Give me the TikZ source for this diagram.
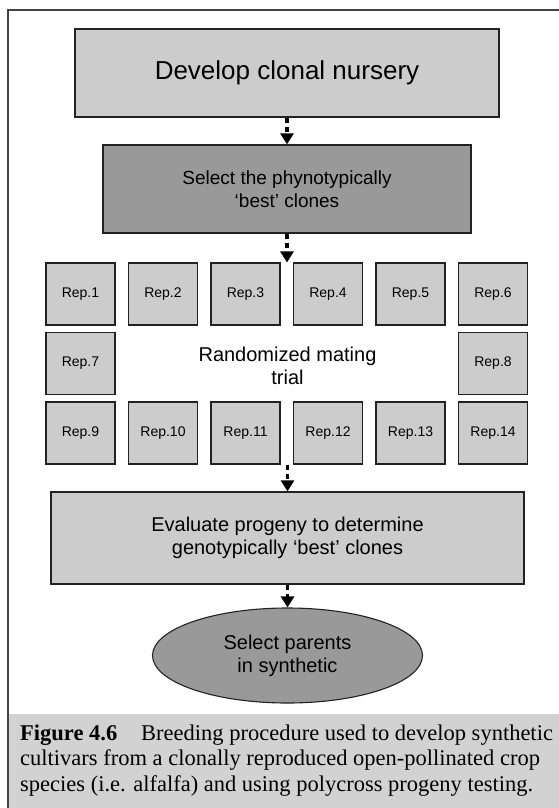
\documentclass[tikz,border=0pt]{standalone}
\usepackage{fontspec}
\setmainfont{Liberation Serif}
\newfontfamily\diagfont{Liberation Sans}
\usetikzlibrary{arrows.meta,shapes.geometric}
\definecolor{boxlight}{HTML}{CCCCCC}
\definecolor{boxdark}{HTML}{999999}
\definecolor{capfill}{HTML}{D2D2D2}
\definecolor{edge}{HTML}{222222}
\definecolor{frameline}{HTML}{444444}

\begin{document}
\begin{tikzpicture}[x=1pt,y=-1pt,
  stage/.style={draw=edge,line width=1.3pt,inner sep=0pt,align=center,
    font=\diagfont\fontsize{20}{23}\selectfont},
  rep/.style={draw=edge,line width=1.1pt,fill=boxlight,minimum width=69pt,
    minimum height=62pt,inner sep=0pt,font=\diagfont\fontsize{14}{16}\selectfont},
  flow/.style={line width=3.4pt,dash pattern=on 5pt off 4pt,
    -{Triangle[width=13pt,length=11pt]}},
  captxt/.style={anchor=base west,inner sep=0pt,font=\fontsize{22.5}{26}\selectfont}
]
\useasboundingbox (0,0) rectangle (559,808);

% caption panel and outer frame
\fill[capfill] (8,714) rectangle (559,808);
\draw[frameline,line width=1.3pt] (8,808) -- (8,10) -- (559,10);

% main stages
\node[stage,fill=boxlight,minimum width=424pt,minimum height=88pt,
  font=\diagfont\fontsize{26}{30}\selectfont] (dev) at (287,73) {Develop clonal nursery};
\node[stage,fill=boxdark,minimum width=368pt,minimum height=88pt,
  font=\diagfont\fontsize{19}{23}\selectfont] (phen) at (287,189)
  {Select the phynotypically\\‘best’ clones};

% replicate plots
\foreach \i in {1,...,6} {
  \node[rep] (r\i) at ({80.5+82.5*(\i-1)},294) {Rep.\i};
}
\node[rep] (r7) at (80.5,363.5) {Rep.7};
\node[rep] (r8) at (493,363.5) {Rep.8};
\foreach \i [evaluate=\i as \k using int(\i+8)] in {1,...,6} {
  \node[rep] (r\k) at ({80.5+82.5*(\i-1)},433) {Rep.\k};
}
\node[align=center,inner sep=0pt,font=\diagfont\fontsize{20}{23}\selectfont] (trial)
  at (287.5,366) {Randomized mating\\trial};

% evaluation and final selection
\node[stage,fill=boxlight,minimum width=473pt,minimum height=92pt] (evalbox)
  at (287.5,538) {Evaluate progeny to determine\\genotypically ‘best’ clones};
\node[ellipse,draw=edge,line width=1.1pt,fill=boxdark,minimum width=270pt,
  minimum height=95pt,inner sep=0pt,align=center,
  font=\diagfont\fontsize{20}{23}\selectfont] (parents) at (287.5,655.5)
  {Select parents\\in synthetic};

% connectors
\draw[flow] (dev.south) -- (phen.north);
\draw[flow] (phen.south) -- (phen.south |- r4.north);
\draw[flow] (evalbox.north |- r11.south) -- (evalbox.north);
\draw[flow] (evalbox.south) -- (parents.north);

% caption
\node[captxt] (capA) at (20,740) {\textbf{Figure 4.6}};
\node[captxt] (capB) at (141,740) {Breeding procedure used to develop synthetic};
\node[captxt] (capC) at (20,765.5) {cultivars from a clonally reproduced open-pollinated crop};
\node[captxt] (capD) at (20,791) {species (i.e. alfalfa) and using polycross progeny testing.};
\end{tikzpicture}
\end{document}
